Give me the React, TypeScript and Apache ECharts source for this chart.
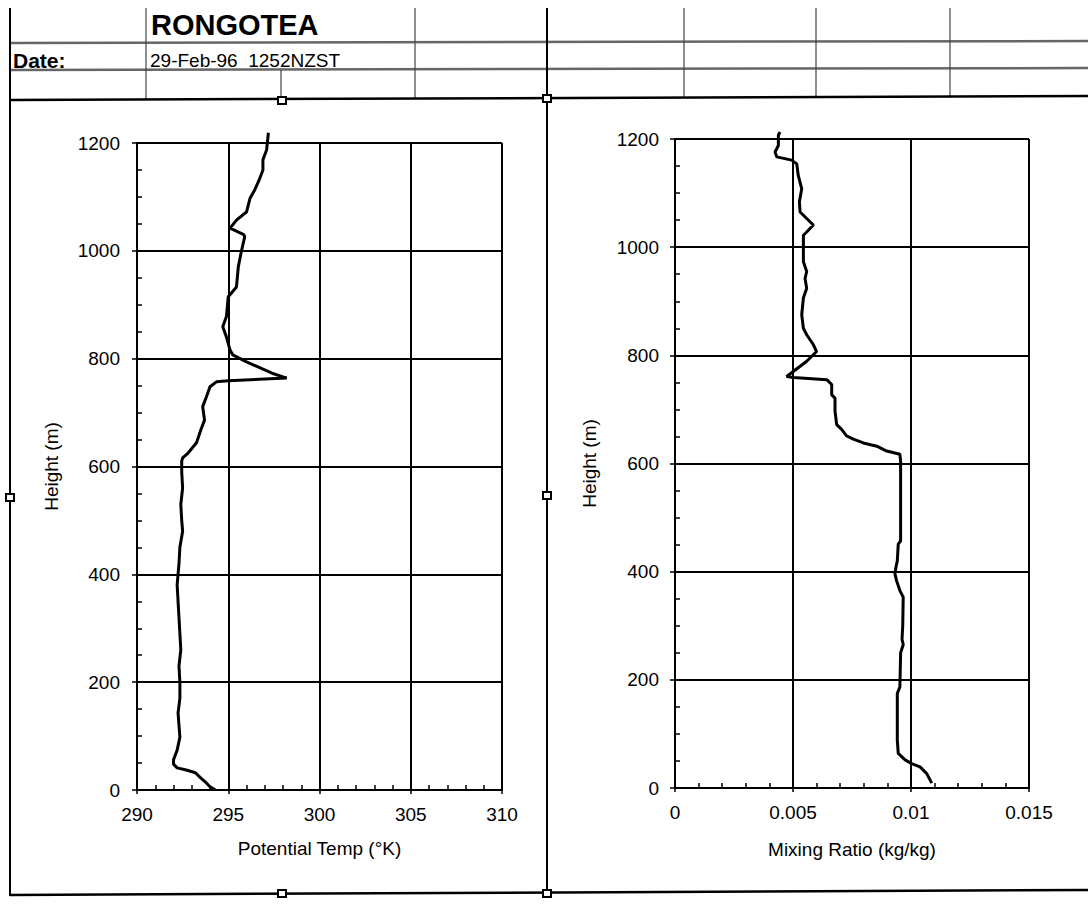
import React, { useEffect, useRef } from "react";
import * as echarts from "echarts";

// Potential temperature profile
const tempHeight = [0, 6, 13, 22, 32, 37, 41, 48, 56, 65, 74, 98, 120, 143, 170, 200, 230, 260, 290, 320, 350, 380, 400, 420, 450, 480, 500, 530, 560, 590, 610, 616, 625, 644, 668, 686, 711, 729, 748, 757, 759, 764, 773, 794, 807, 816, 840, 859, 878, 915, 933, 970, 996, 1026, 1030, 1042, 1057, 1072, 1098, 1113, 1132, 1150, 1169, 1187, 1219];
const tempTheta = [294.3, 294.0, 293.8, 293.5, 293.2, 292.7, 292.2, 292.0, 292.0, 292.1, 292.2, 292.35, 292.3, 292.25, 292.35, 292.35, 292.3, 292.4, 292.35, 292.3, 292.25, 292.2, 292.25, 292.3, 292.35, 292.5, 292.45, 292.4, 292.5, 292.45, 292.45, 292.5, 292.8, 293.26, 293.5, 293.7, 293.6, 293.8, 294.0, 294.35, 295.0, 298.2, 297.4, 296.0, 295.25, 295.1, 294.9, 294.7, 294.9, 295.0, 295.45, 295.55, 295.7, 295.9, 295.85, 295.1, 295.45, 296.0, 296.2, 296.45, 296.7, 296.9, 296.9, 297.1, 297.2];

// Mixing ratio profile
const mixHeight = [9, 27, 39, 45, 52, 64, 88, 175, 187, 250, 265, 275, 300, 353, 365, 383, 396, 410, 420, 451, 457, 604, 617, 623, 632, 638, 645, 651, 663, 672, 697, 721, 727, 746, 755, 759, 761, 770, 789, 807, 820, 838, 850, 875, 906, 924, 942, 955, 973, 1022, 1028, 1041, 1053, 1065, 1084, 1108, 1133, 1154, 1161, 1167, 1176, 1188, 1207, 1213];
const mixRatio = [0.01088, 0.01066, 0.01038, 0.01003, 0.00975, 0.00946, 0.00942, 0.00942, 0.00953, 0.00956, 0.00967, 0.00962, 0.00965, 0.00967, 0.00953, 0.00939, 0.00932, 0.00937, 0.00942, 0.00946, 0.00956, 0.00956, 0.00953, 0.00897, 0.00855, 0.00798, 0.00756, 0.00727, 0.00706, 0.00685, 0.00678, 0.00678, 0.00664, 0.00664, 0.00643, 0.00501, 0.00473, 0.00501, 0.00558, 0.0060, 0.00586, 0.00558, 0.00544, 0.00537, 0.00544, 0.00558, 0.00551, 0.00558, 0.00544, 0.00544, 0.00558, 0.00586, 0.00558, 0.0053, 0.00527, 0.00537, 0.00522, 0.00516, 0.00494, 0.00431, 0.00424, 0.00438, 0.00438, 0.00445];

const stationName = "RONGOTEA";
const dateLabel = "Date:";
const dateValue = "29-Feb-96  1252NZST";

const FONT = "Liberation Sans, Arial, sans-serif";
const FS = 19;

export default function App() {
  const ref = useRef<HTMLDivElement>(null);
  useEffect(() => {
    document.body.style.margin = "0";
    const chart = echarts.init(ref.current!, null, { renderer: "svg" });
    const lineStyle = { color: "#000", width: 2 };
    const tickStyle = { color: "#000", width: 1.5 };
    const mkX = (grid: number, min: number, max: number, interval: number, minorInterval: number, name: string, gap: number) => [
      {
        type: "value", gridIndex: grid, min, max, interval, position: "bottom",
        name, nameLocation: "middle", nameGap: gap,
        nameTextStyle: { color: "#000", fontSize: FS, fontFamily: FONT },
        axisLine: { show: true, onZero: false, lineStyle },
        axisTick: { show: true, length: 4, lineStyle: tickStyle },
        axisLabel: { color: "#000", fontSize: FS, fontFamily: FONT, margin: 15 },
        splitLine: { show: true, lineStyle },
      },
      {
        // inward minor ticks
        type: "value", gridIndex: grid, min, max, interval: minorInterval, position: "bottom",
        axisLine: { show: false, onZero: false },
        axisTick: { show: true, inside: true, length: 5, lineStyle: tickStyle },
        axisLabel: { show: false },
        splitLine: { show: false },
      },
    ];
    const mkY = (grid: number, labelMargin: number) => [
      {
        type: "value", gridIndex: grid, min: 0, max: 1200, interval: 200, position: "left",
        name: "Height (m)", nameLocation: "middle", nameGap: 76,
        nameTextStyle: { color: "#000", fontSize: FS, fontFamily: FONT },
        axisLine: { show: true, onZero: false, lineStyle },
        axisTick: { show: true, length: 5, lineStyle: tickStyle },
        axisLabel: { color: "#000", fontSize: FS, fontFamily: FONT, margin: labelMargin, formatter: (v: number) => String(v) },
        splitLine: { show: true, lineStyle },
      },
      {
        // inward minor ticks
        type: "value", gridIndex: grid, min: 0, max: 1200, interval: 50, position: "left",
        axisLine: { show: false, onZero: false },
        axisTick: { show: true, inside: true, length: 5, lineStyle: tickStyle },
        axisLabel: { show: false },
        splitLine: { show: false },
      },
    ];
    const handle = (x: number, y: number) => ({
      type: "rect", shape: { x: x - 4, y: y - 3, width: 8, height: 7 },
      style: { fill: "#fff", stroke: "#000", lineWidth: 2 }, z: 10,
    });
    const vline = (x: number, y1: number, y2: number) => ({
      type: "line", shape: { x1: x, y1, x2: x, y2 }, style: { stroke: "#444", lineWidth: 1.2 },
    });
    const hline = (y: number) => ({
      type: "line", shape: { x1: 10, y1: y, x2: 1088, y2: y - 2 }, style: { stroke: "#666", lineWidth: 2.5 },
    });
    chart.setOption({
      animation: false,
      backgroundColor: "#fff",
      grid: [
        { left: 137, top: 143, width: 365, height: 647 },
        { left: 675, top: 139, width: 354, height: 649 },
      ],
      xAxis: [
        ...mkX(0, 290, 310, 5, 1, "Potential Temp (°K)", 49),
        ...mkX(1, 0, 0.015, 0.005, 0.001, "Mixing Ratio (kg/kg)", 52),
      ],
      yAxis: [...mkY(0, 17), ...mkY(1, 16)],
      series: [
        {
          type: "line", xAxisIndex: 0, yAxisIndex: 0, clip: false, showSymbol: false,
          lineStyle: { color: "#000", width: 3 },
          data: tempHeight.map((h, i) => [tempTheta[i], h]),
        },
        {
          type: "line", xAxisIndex: 2, yAxisIndex: 2, clip: false, showSymbol: false,
          lineStyle: { color: "#000", width: 3 },
          data: mixHeight.map((h, i) => [mixRatio[i], h]),
        },
      ],
      graphic: [
        hline(43),
        hline(70),
        vline(146, 8, 100),
        vline(281, 70, 100),
        vline(415, 8, 98),
        vline(684, 8, 98),
        vline(816, 8, 98),
        vline(950, 8, 98),
        { type: "line", shape: { x1: 10, y1: 8, x2: 10, y2: 896 }, style: { stroke: "#000", lineWidth: 2 } },
        { type: "line", shape: { x1: 547, y1: 8, x2: 547, y2: 896 }, style: { stroke: "#000", lineWidth: 2 } },
        { type: "line", shape: { x1: 10, y1: 100, x2: 1088, y2: 96 }, style: { stroke: "#000", lineWidth: 2.5 } },
        { type: "line", shape: { x1: 10, y1: 895, x2: 1088, y2: 890 }, style: { stroke: "#000", lineWidth: 2.5 } },
        handle(282, 100), handle(547, 98), handle(282, 893), handle(547, 893), handle(10, 497), handle(547, 495),
        {
          type: "text", x: 151, y: 25,
          style: { text: stationName, fill: "#000", font: `bold 29px ${FONT}`, verticalAlign: "middle" },
        },
        {
          type: "text", x: 13, y: 60,
          style: { text: dateLabel, fill: "#000", font: `bold 21px ${FONT}`, verticalAlign: "middle" },
        },
        {
          type: "text", x: 150, y: 60,
          style: { text: dateValue, fill: "#000", font: `19px ${FONT}`, verticalAlign: "middle" },
        },
      ],
    });
    return () => chart.dispose();
  }, []);
  return <div ref={ref} style={{ width: 1088, height: 904 }} />;
}
